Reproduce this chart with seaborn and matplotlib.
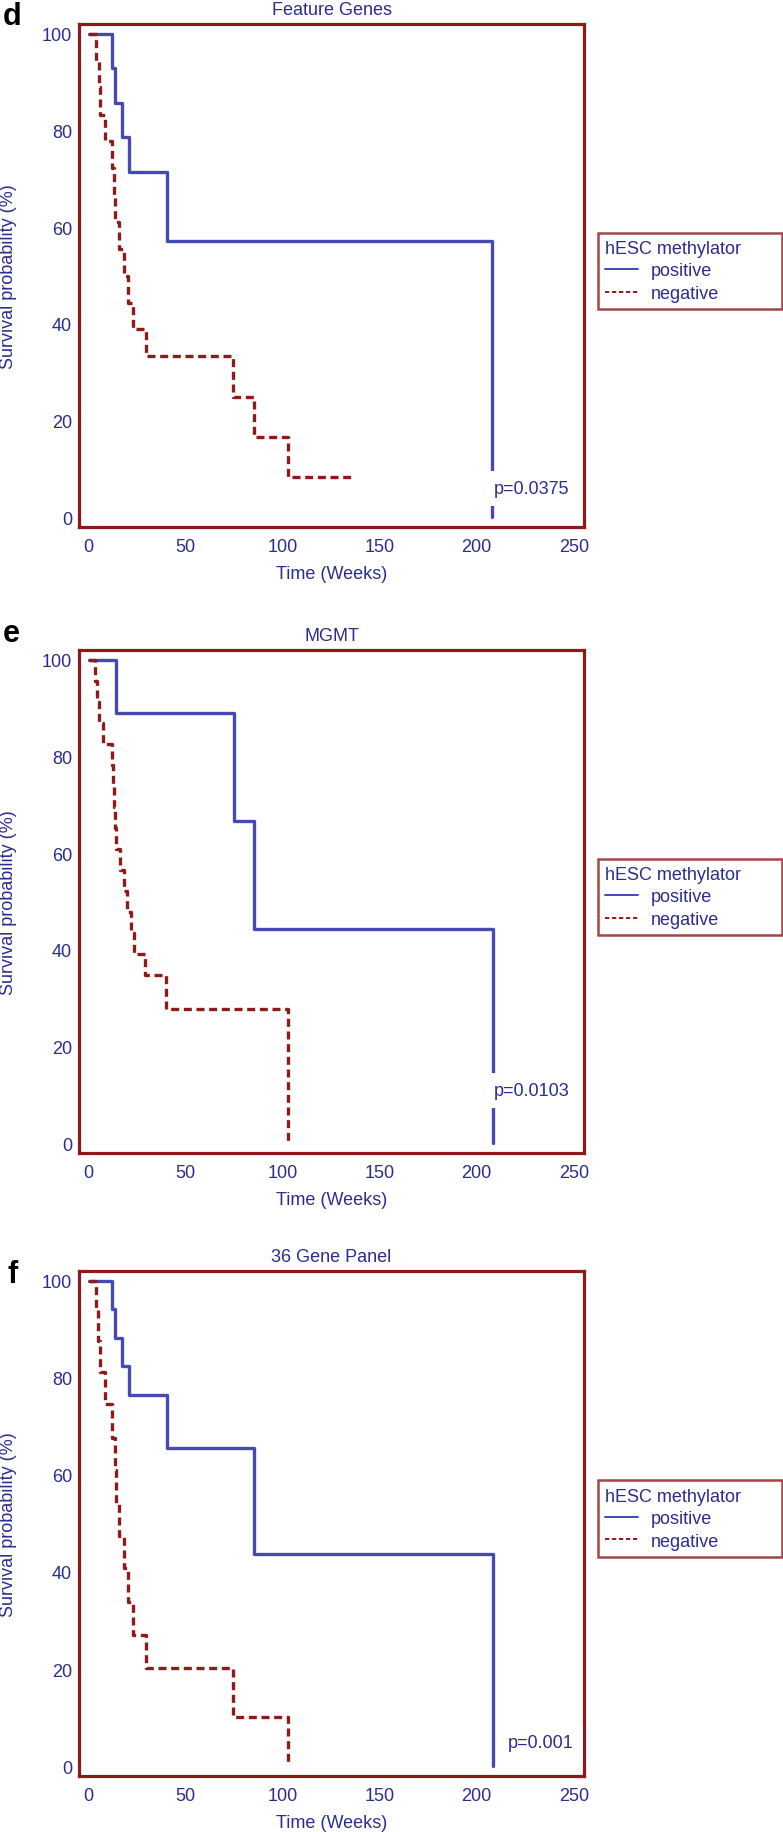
import seaborn as sns
import matplotlib.pyplot as plt
from matplotlib.lines import Line2D

# Kaplan-Meier curves: time (weeks) and survival (%)
# each point starts a step (steps-post)
d_pos_time = [0, 12.1, 13.8, 17.2, 21.0, 40.5, 208.0]
d_pos_surv = [100, 92.9, 85.7, 78.6, 71.4, 57.1, 0]
d_neg_time = [0, 3.8, 5.2, 6.0, 8.3, 12.1, 12.8, 13.8, 15.5, 18.1, 20.3, 22.8, 29.3, 74.5, 85.3, 102.6, 135.0]
d_neg_surv = [100, 94.4, 88.9, 83.3, 77.8, 72.2, 66.7, 61.1, 55.6, 50.0, 44.4, 38.9, 33.3, 25.0, 16.7, 8.3, 8.3]

e_pos_time = [0, 14.3, 75.0, 85.3, 208.5]
e_pos_surv = [100, 88.9, 66.7, 44.4, 0]
e_neg_time = [0, 3.3, 4.2, 5.5, 7.5, 12.0, 12.3, 12.8, 13.4, 14.2, 16.1, 18.1, 19.9, 21.7, 23.3, 29.0, 40.0, 102.6]
e_neg_surv = [100, 95.7, 91.3, 87.0, 82.6, 78.3, 73.9, 69.6, 65.2, 60.9, 56.5, 52.2, 47.8, 43.5, 39.1, 34.8, 27.8, 0]

f_pos_time = [0, 12.1, 13.8, 17.2, 21.0, 40.5, 85.3, 208.5]
f_pos_surv = [100, 94.1, 88.2, 82.4, 76.5, 65.5, 43.7, 0]
f_neg_time = [0, 3.8, 4.8, 5.8, 8.3, 12.1, 13.4, 14.0, 15.5, 18.1, 20.3, 22.8, 29.3, 74.5, 102.6]
f_neg_surv = [100, 94.0, 87.5, 81.2, 74.6, 67.5, 61.0, 54.2, 47.5, 40.8, 33.9, 27.0, 20.2, 10.1, 0]

titles = ["Feature Genes", "MGMT", "36 Gene Panel"]
letters = ["d", "e", "f"]
p_values = ["p=0.0375", "p=0.0103", "p=0.001"]
group_labels = ["positive", "negative"]

# layout (figure fractions / data coords)
axes_rects = [(0.1009, 0.7119, 0.645, 0.2744),
              (0.1009, 0.3704, 0.645, 0.2744),
              (0.1009, 0.0306, 0.645, 0.2755)]
letter_xy = [(3, 25), (3, 642), (8, 1283)]       # pixels from top-left
p_xy = [(209, 5.9), (209, 11.0), (216, 4.9)]

blue = "#4549B0"
red = "#8E1A1A"
frame_c = "#8B1A1A"
text_c = "#2B2D8E"

sns.set_style("white")
plt.rcParams["font.family"] = ["Liberation Sans", "DejaVu Sans"]

fig = plt.figure(figsize=(7.83, 18.33), dpi=100)

curves = [(d_pos_time, d_pos_surv, d_neg_time, d_neg_surv),
          (e_pos_time, e_pos_surv, e_neg_time, e_neg_surv),
          (f_pos_time, f_pos_surv, f_neg_time, f_neg_surv)]

for i, (pt, ps, nt, ns) in enumerate(curves):
    ax = fig.add_axes(axes_rects[i])

    sns.lineplot(x=pt, y=ps, ax=ax, color=blue, linewidth=2.4,
                 drawstyle="steps-post", estimator=None, sort=False)
    sns.lineplot(x=nt, y=ns, ax=ax, color=red, linewidth=2.4,
                 linestyle=(0, (2.4, 1.4)),
                 drawstyle="steps-post", estimator=None, sort=False)

    ax.set_xlim(-5, 255.3)
    ax.set_ylim(-2, 102)
    ax.set_xticks(range(0, 251, 50))
    ax.set_yticks(range(0, 101, 20))
    ax.set_yticks(range(10, 100, 20), minor=True)

    for sp in ax.spines.values():
        sp.set_color(frame_c)
        sp.set_linewidth(2.3)
    ax.tick_params(axis="both", which="both", direction="in", color=frame_c,
                   width=2, labelcolor=text_c, labelsize=13)
    ax.tick_params(axis="x", which="major", length=6, pad=8)
    ax.tick_params(axis="y", which="major", length=8, pad=5)
    ax.tick_params(axis="y", which="minor", length=5)

    ax.set_title(titles[i], color=text_c, fontsize=13, pad=7)
    ax.set_xlabel("Time (Weeks)", color=text_c, fontsize=13)
    ax.set_ylabel("Survival probability (%)", color=text_c, fontsize=13)
    ax.xaxis.set_label_coords(0.5, -0.075)
    ax.yaxis.set_label_coords(-0.122, 0.5)

    ax.text(p_xy[i][0], p_xy[i][1], p_values[i], color=text_c, fontsize=13,
            ha="left", va="center",
            bbox=dict(boxstyle="square,pad=0.5", fc="white", ec="none"))

    handles = [Line2D([], [], color=blue, lw=1.4),
               Line2D([], [], color=red, lw=1.4, linestyle=(0, (2.2, 1.4)))]
    leg = ax.legend(handles, group_labels, title="hESC methylator",
                    loc="upper left", bbox_to_anchor=(1.0277, 0.585, 0.364, 0),
                    mode="expand", frameon=True, fancybox=False,
                    edgecolor=frame_c, fontsize=13, title_fontsize=13,
                    handlelength=1.8, handletextpad=0.7, borderpad=0.4,
                    labelspacing=0.3, borderaxespad=0, alignment="left")
    leg.get_frame().set_linewidth(1.8)
    leg.get_title().set_color(text_c)
    for t in leg.get_texts():
        t.set_color(text_c)

    lx, ly = letter_xy[i]
    fig.text(lx / 783, 1 - ly / 1833, letters[i], fontsize=22,
             fontweight="bold", color="black", va="baseline", ha="left")

fig.savefig("out.png", dpi=100)
